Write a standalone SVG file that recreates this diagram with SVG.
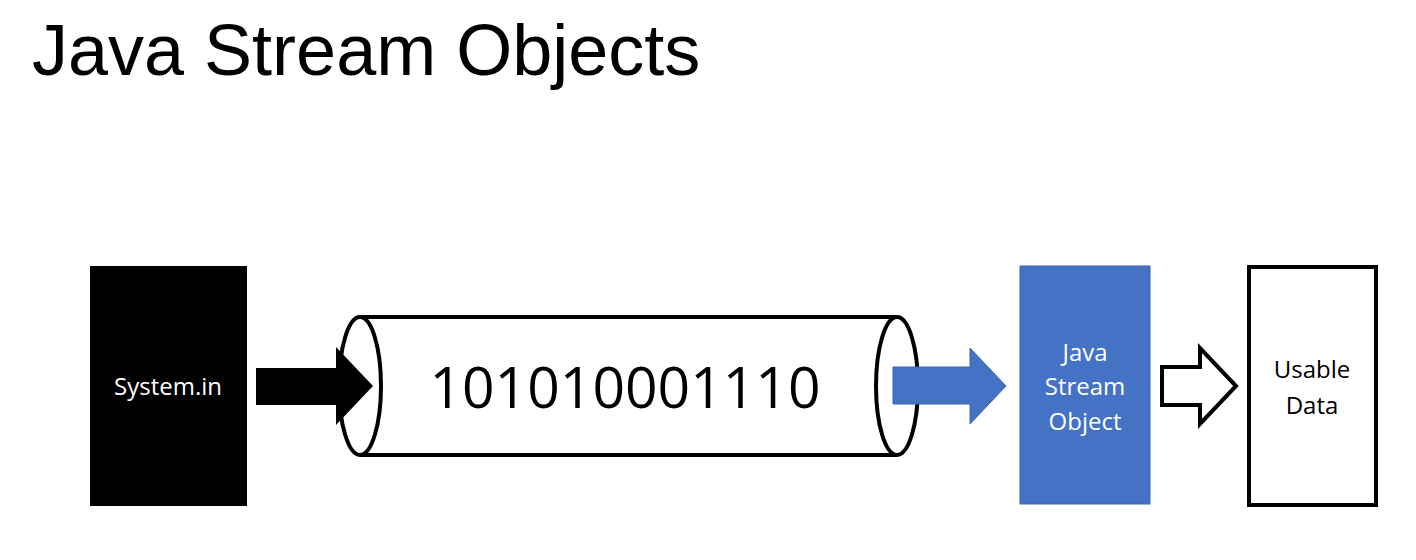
<svg xmlns="http://www.w3.org/2000/svg" width="1416" height="560" viewBox="0 0 1416 560">
<style>
.title{font-family:"Liberation Sans",Arial,sans-serif;font-size:72px;fill:#000}
.lbl{font-family:"Open Sans","Noto Sans",sans-serif;font-size:24px;text-anchor:middle}
.w{fill:#fff}
.k{fill:#000}
.edge{stroke-width:4;stroke-linejoin:miter}
</style>
<rect width="1416" height="560" fill="#fff"/>
<text class="title" x="32" y="75">Java Stream Objects</text>

<g id="system-in">
<rect x="90" y="266" width="157" height="240" fill="#000"/>
<text class="lbl w" x="168" y="395">System.in</text>
</g>

<g id="stream-pipe">
<rect x="360" y="317" width="537" height="138" fill="#fff" stroke="none"/>
<path d="M360,317 L897,317 M360,455 L897,455" stroke="#000" stroke-width="4" fill="none"/>
<ellipse cx="360" cy="386" rx="21" ry="69" fill="#fff" stroke="#000" stroke-width="4"/>
<ellipse cx="897" cy="386" rx="21" ry="69" fill="#fff" stroke="#000" stroke-width="4"/>
<text x="625" y="408" font-family="Open Sans, Noto Sans, sans-serif" font-size="57" text-anchor="middle" fill="#000">101010001110</text>
</g>

<g id="java-stream-object">
<rect x="1020" y="266" width="130" height="238" fill="#4472C4" stroke="#3b64ad" stroke-width="1"/>
<text class="lbl w" x="1085" y="361">Java</text>
<text class="lbl w" x="1085" y="395">Stream</text>
<text class="lbl w" x="1085" y="430">Object</text>
</g>

<g id="usable-data">
<rect x="1249" y="267" width="127" height="238" fill="#fff" stroke="#000" stroke-width="4"/>
<text class="lbl k" x="1312" y="378">Usable</text>
<text class="lbl k" x="1312" y="414">Data</text>
</g>

<g id="connectors">
<path d="M256,368 L336,368 L336,347 L373,386 L336,425 L336,405 L256,405 Z" fill="#000"/>
<path d="M893,367 L970,367 L970,348 L1006,386 L970,424 L970,404 L893,404 Z" fill="#4472C4" stroke="#3b64ad" stroke-width="1"/>
<path class="edge" d="M1162,367 L1200,367 L1200,348 L1236,386 L1200,424 L1200,405 L1162,405 Z" fill="#fff" stroke="#000"/>
</g>
</svg>
